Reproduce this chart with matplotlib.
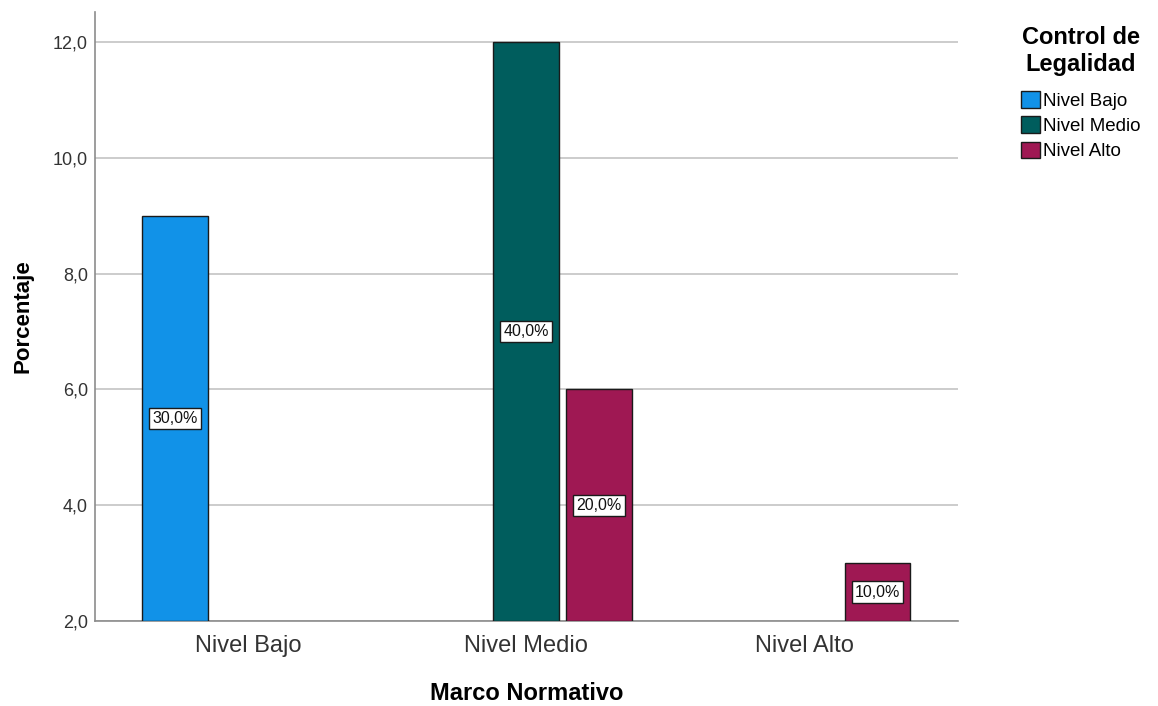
import numpy as np
import matplotlib
matplotlib.use("Agg")
import matplotlib.pyplot as plt
from matplotlib.ticker import FuncFormatter

# categories of the x axis (Marco Normativo) and the legend (Control de Legalidad)
groups = ["Nivel Bajo", "Nivel Medio", "Nivel Alto"]
series = ["Nivel Bajo", "Nivel Medio", "Nivel Alto"]
colors = ["#1192E8", "#005D5D", "#9F1853"]

# bar heights per series, one value per group (None = no bar)
nivel_bajo = [9.0, None, None]
nivel_medio = [None, 12.0, None]
nivel_alto = [None, 6.0, 3.0]

# percentage labels per series
pct_bajo = ["30,0%", None, None]
pct_medio = [None, "40,0%", None]
pct_alto = [None, "20,0%", "10,0%"]

values = [nivel_bajo, nivel_medio, nivel_alto]
labels = [pct_bajo, pct_medio, pct_alto]
base = 2.0

plt.rcParams['font.family'] = ['Liberation Sans', 'DejaVu Sans']

fig = plt.figure(figsize=(11.58, 7.06), dpi=100)
ax = fig.add_axes([0.082, 0.1204, 0.745, 0.8626])

x = np.arange(len(groups))
slot = 0.262
width = 0.237

for i, (name, vals, labs) in enumerate(zip(series, values, labels)):
    for j, v in enumerate(vals):
        if v is None:
            continue
        xpos = x[j] + (i - 1) * slot
        ax.bar(xpos, v - base, width=width, bottom=base, color=colors[i],
               edgecolor="#1a1a1a", linewidth=1.0, zorder=3)
        ax.text(xpos, base + (v - base) / 2, labs[j], ha="center", va="center",
                fontsize=11.5, zorder=4, color="#111111",
                bbox=dict(boxstyle="square,pad=0.2", fc="white", ec="#1a1a1a", lw=1.0))

# legend handles
handles = [plt.Rectangle((0, 0), 1, 1, fc=c, ec="#1a1a1a", lw=1.0) for c in colors]
leg = fig.legend(handles, series, title="Control de\nLegalidad", loc="upper left",
                 bbox_to_anchor=(0.867, 0.987), frameon=False, fontsize=13.5,
                 title_fontproperties={"weight": "bold", "size": 17},
                 handlelength=1.0, handleheight=1.0, handletextpad=0.2,
                 labelspacing=0.35)
leg._legend_box.align = "center"
leg.get_title().set_multialignment("center")
leg._legend_box.sep = 11

ax.set_xlim(-0.55, 2.55)
ax.set_ylim(2.0, 12.52)
ax.set_yticks([2, 4, 6, 8, 10, 12])
ax.yaxis.set_major_formatter(FuncFormatter(lambda v, p: f"{v:.1f}".replace(".", ",")))
ax.set_xticks(x)
ax.set_xticklabels(groups, fontsize=17, color="#333333")
ax.tick_params(axis="y", labelsize=13, length=0, pad=5, labelcolor="#333333")
ax.tick_params(axis="x", length=0, pad=10)

ax.grid(axis="y", color="#c8c8c8", linewidth=1.3, zorder=0)
for s in ["top", "right"]:
    ax.spines[s].set_visible(False)
for s in ["left", "bottom"]:
    ax.spines[s].set_color("#8c8c8c")
    ax.spines[s].set_linewidth(1.2)

ax.set_xlabel("Marco Normativo", fontsize=17, fontweight="bold", labelpad=18)
ax.set_ylabel("Porcentaje", fontsize=16, fontweight="bold", labelpad=14)

fig.savefig("out.png", dpi=100)
